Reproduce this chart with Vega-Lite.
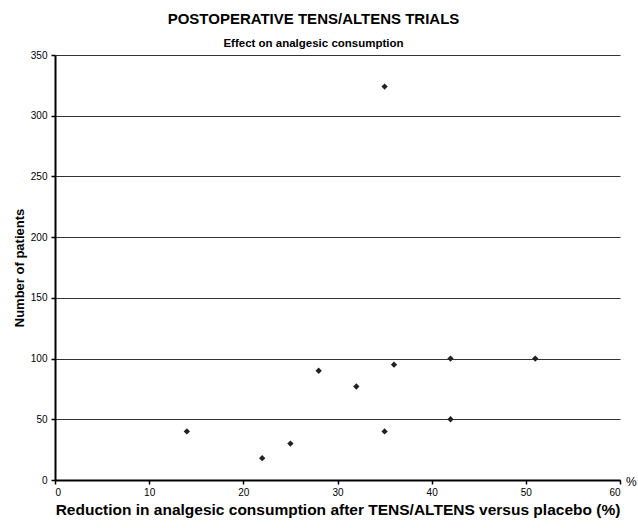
{
  "$schema": "https://vega.github.io/schema/vega-lite/v6.json",
  "width": 565,
  "height": 425,
  "autosize": {"type": "none"},
  "padding": {"left": 55, "top": 55, "right": 18, "bottom": 48},
  "config": {
    "font": "Liberation Sans",
    "view": {"stroke": null},
    "background": "white"
  },
  "title": {
    "text": "POSTOPERATIVE TENS/ALTENS TRIALS",
    "subtitle": "Effect  on analgesic consumption",
    "fontSize": 15,
    "fontWeight": "bold",
    "subtitleFontSize": 11.5,
    "subtitleFontWeight": "bold",
    "subtitleColor": "black",
    "color": "black",
    "subtitlePadding": 11,
    "offset": 1,
    "dx": -24,
    "anchor": "middle"
  },
  "data": {
    "values": [
      {"reduction": 14, "patients": 40},
      {"reduction": 22, "patients": 18},
      {"reduction": 25, "patients": 30},
      {"reduction": 28, "patients": 90},
      {"reduction": 32, "patients": 77},
      {"reduction": 35, "patients": 40},
      {"reduction": 35, "patients": 324},
      {"reduction": 36, "patients": 95},
      {"reduction": 42, "patients": 100},
      {"reduction": 42, "patients": 50},
      {"reduction": 51, "patients": 100}
    ]
  },
  "layer": [
    {
      "mark": {"type": "point", "shape": "diamond", "filled": true, "color": "#222", "size": 40, "opacity": 1},
      "encoding": {
        "x": {
          "field": "reduction", "type": "quantitative",
          "scale": {"domain": [0, 60], "nice": false, "zero": true},
          "axis": {
            "values": [0, 10, 20, 30, 40, 50, 60],
            "title": "Reduction in analgesic consumption after TENS/ALTENS versus placebo (%)",
            "titleFontSize": 15.5, "titleFontWeight": "bold", "titleColor": "black",
            "titlePadding": 5,
            "labelFontSize": 10, "labelColor": "black", "labelPadding": 3,
            "domainColor": "black", "domainWidth": 2,
            "tickColor": "black", "tickSize": 4, "tickWidth": 1.5,
            "grid": false
          }
        },
        "y": {
          "field": "patients", "type": "quantitative",
          "scale": {"domain": [0, 350], "nice": false},
          "axis": {
            "values": [0, 50, 100, 150, 200, 250, 300, 350],
            "title": "Number of patients",
            "titleFontSize": 13, "titleFontWeight": "bold", "titleColor": "black",
            "titlePadding": 4,
            "labelFontSize": 10, "labelColor": "black", "labelPadding": 4,
            "domainColor": "black", "domainWidth": 2,
            "tickColor": "black", "tickSize": 4, "tickWidth": 1.5,
            "grid": true, "gridColor": "#333", "gridWidth": 1
          }
        }
      }
    },
    {
      "data": {"values": [{"reduction": 60, "patients": 0, "label": "%"}]},
      "mark": {"type": "text", "align": "left", "baseline": "middle", "dx": 6, "dy": 2, "fontSize": 12, "color": "black"},
      "encoding": {
        "x": {"field": "reduction", "type": "quantitative"},
        "y": {"field": "patients", "type": "quantitative"},
        "text": {"field": "label"}
      }
    }
  ]
}
